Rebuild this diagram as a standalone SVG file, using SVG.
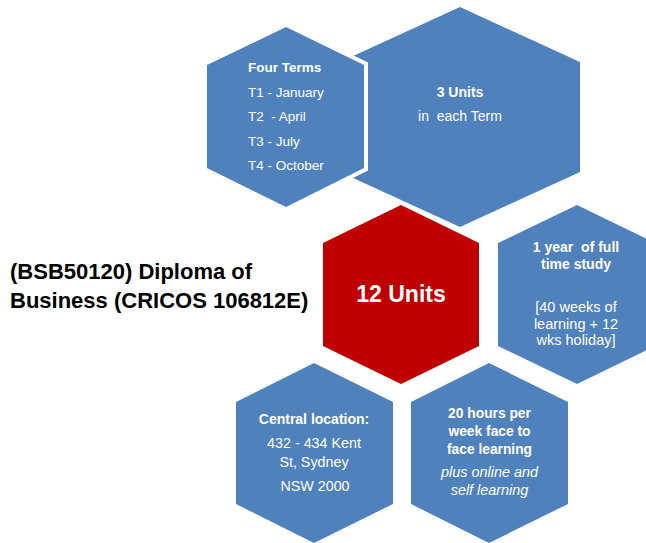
<svg xmlns="http://www.w3.org/2000/svg" width="646" height="543" viewBox="0 0 646 543">
<style>
.hex{fill:#4F81BD}
.red{fill:#C00000}
.edge{stroke:#FFFFFF;stroke-width:8;paint-order:stroke;stroke-linejoin:miter}
text{font-family:"Liberation Sans",Arial,sans-serif;fill:#FFFFFF}
.b{font-weight:bold}
.c{text-anchor:middle}
.i{font-style:italic}
.title{fill:#000000;font-weight:bold;font-size:22px}
</style>
<rect width="646" height="543" fill="#FFFFFF"/>
<g id="connectors"></g>
<g id="n2">
<polygon class="hex" points="460,7 580,62 580,172 460,227 340,172 340,62"/>
<text class="b c" x="460" y="97" font-size="14">3 Units</text>
<text class="c" x="460" y="121" font-size="14" xml:space="preserve">in  each Term</text>
</g>
<g id="n1">
<polygon class="hex edge" points="286,27 364,65 364,168 286,207 207,168 207,65"/>
<text class="b" x="248" y="72" font-size="13.5">Four Terms</text>
<text x="248" y="97" font-size="13.5">T1 - January</text>
<text x="248" y="121" font-size="13.5" xml:space="preserve">T2  - April</text>
<text x="248" y="146" font-size="13.5">T3 - July</text>
<text x="248" y="170" font-size="13.5">T4 - October</text>
</g>
<g id="n3">
<polygon class="red" points="401,205 479,243 479,346 401,384 323,346 323,243"/>
<text class="b c" x="401" y="302" font-size="23">12 Units</text>
</g>
<g id="n4">
<polygon class="hex" points="577,205 655,243 655,346 577,384 498,346 498,243"/>
<text class="b c" x="576" y="252" font-size="14" xml:space="preserve">1 year  of full</text>
<text class="b c" x="576" y="268.5" font-size="14">time study</text>
<text class="c" x="576" y="312" font-size="14.5">[40 weeks of</text>
<text class="c" x="576" y="329" font-size="14.5">learning + 12</text>
<text class="c" x="576" y="345" font-size="14.5">wks holiday]</text>
</g>
<g id="n5">
<polygon class="hex" points="314,363 393,402 393,504 314,543 236,504 236,402"/>
<text class="b c" x="314" y="424" font-size="14">Central location:</text>
<text class="c" x="314" y="448" font-size="14.3">432 - 434 Kent</text>
<text class="c" x="314" y="466.5" font-size="14.3">St, Sydney</text>
<text class="c" x="315" y="491" font-size="14.3">NSW 2000</text>
</g>
<g id="n6">
<polygon class="hex" points="489,363 568,402 568,504 489,543 411,504 411,402"/>
<text class="b c" x="489.5" y="418" font-size="13.8">20 hours per</text>
<text class="b c" x="489.5" y="436" font-size="13.8">week face to</text>
<text class="b c" x="489.5" y="454" font-size="13.8">face learning</text>
<text class="i c" x="489.5" y="477" font-size="14.4">plus online and</text>
<text class="i c" x="489.5" y="495" font-size="14.4">self learning</text>
</g>
<g id="title">
<text class="title" x="10" y="279">(BSB50120) Diploma of</text>
<text class="title" x="10" y="308">Business (CRICOS 106812E)</text>
</g>
</svg>
